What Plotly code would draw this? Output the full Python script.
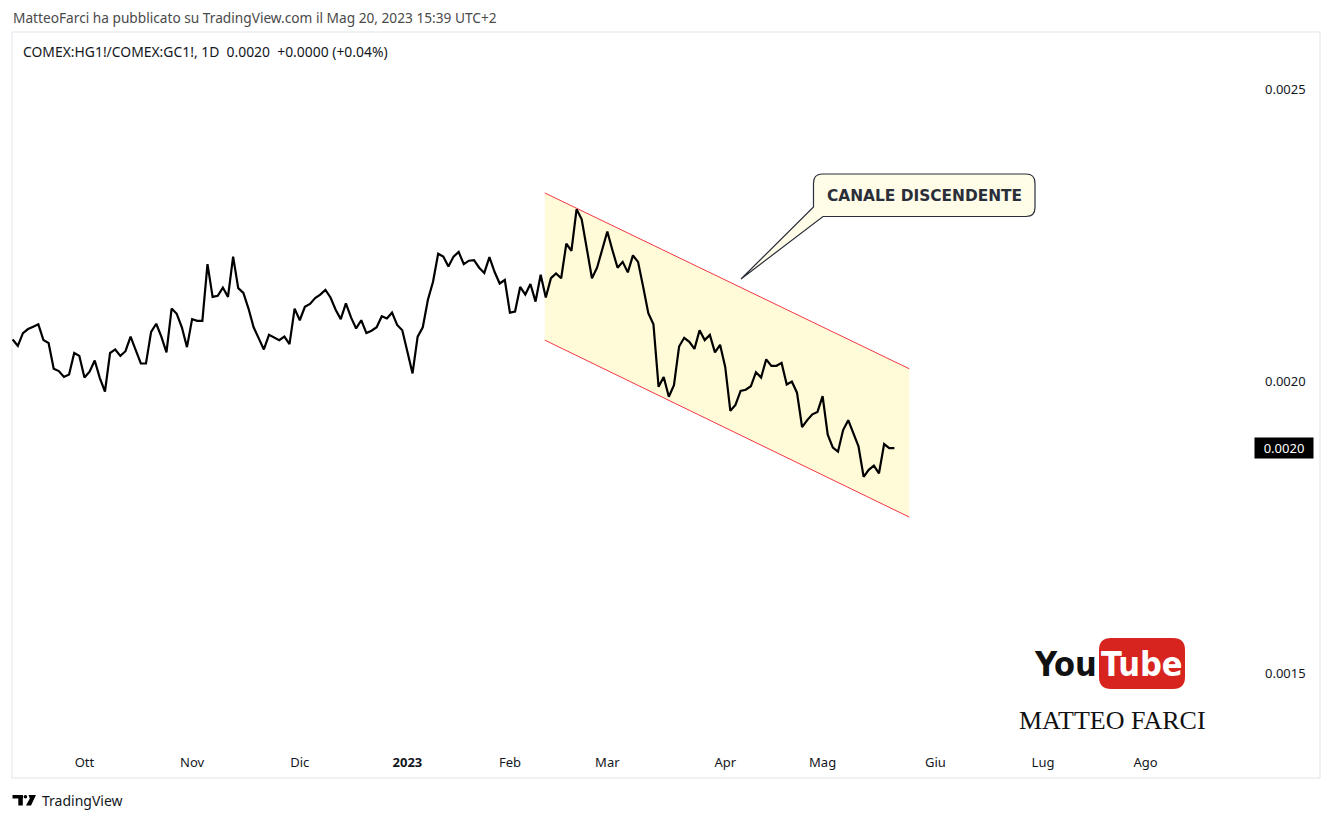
import plotly.graph_objects as go

# ---- data (COMEX:HG1!/COMEX:GC1!, daily, bar index 0 = first visible bar) ----
ratio = [
    0.002071, 0.002060, 0.002082, 0.002089, 0.002093, 0.002097, 0.002070, 0.002065, 0.002021, 0.002017,
    0.002007, 0.002011, 0.002048, 0.002043, 0.002006, 0.002016, 0.002035, 0.002005, 0.001982, 0.002048,
    0.002054, 0.002043, 0.002051, 0.002076, 0.002053, 0.002030, 0.002030, 0.002084, 0.002098, 0.002076,
    0.002049, 0.002124, 0.002115, 0.002092, 0.002058, 0.002106, 0.002103, 0.002103, 0.002200, 0.002144,
    0.002146, 0.002160, 0.002144, 0.002213, 0.002159, 0.002151, 0.002124, 0.002092, 0.002073, 0.002054,
    0.002079, 0.002075, 0.002070, 0.002076, 0.002063, 0.002124, 0.002104, 0.002127, 0.002132, 0.002142,
    0.002148, 0.002156, 0.002143, 0.002122, 0.002106, 0.002133, 0.002109, 0.002090, 0.002104, 0.002082,
    0.002086, 0.002092, 0.002111, 0.002107, 0.002117, 0.002096, 0.002087, 0.002050, 0.002013, 0.002076,
    0.002092, 0.002139, 0.002170, 0.002218, 0.002213, 0.002196, 0.002213, 0.002221, 0.002200, 0.002206,
    0.002207, 0.002194, 0.002185, 0.002212, 0.002187, 0.002167, 0.002173, 0.002117, 0.002119, 0.002161,
    0.002148, 0.002166, 0.002136, 0.002182, 0.002143, 0.002176, 0.002184, 0.002176, 0.002235, 0.002223,
    0.002294, 0.002277, 0.002227, 0.002176, 0.002194, 0.002224, 0.002256, 0.002224, 0.002194, 0.002204,
    0.002186, 0.002215, 0.002204, 0.002161, 0.002116, 0.002097, 0.001990, 0.002007, 0.001973, 0.001993,
    0.002059, 0.002074, 0.002067, 0.002055, 0.002087, 0.002070, 0.002079, 0.002049, 0.002062, 0.002024,
    0.001949, 0.001959, 0.001983, 0.001985, 0.001991, 0.002015, 0.002006, 0.002037, 0.002026, 0.002026,
    0.002031, 0.001994, 0.001999, 0.001980, 0.001921, 0.001933, 0.001943, 0.001947, 0.001974, 0.001908,
    0.001886, 0.001879, 0.001916, 0.001933, 0.001910, 0.001888, 0.001836, 0.001848, 0.001855, 0.001842,
    0.001892, 0.001885, 0.001885,
]
month_tick_bars = [14, 35, 56, 77, 97, 116, 139, 158, 180, 201, 221]
month_tick_labels = ["Ott", "Nov", "Dic", "<b>2023</b>", "Feb", "Mar", "Apr", "Mag", "Giu", "Lug", "Ago"]
price_ticks = [0.0015, 0.0020, 0.0025]
channel_bars = [103.8, 174.9]
channel_upper = [0.002322, 0.002021]
channel_lower = [0.002070, 0.001767]
last_price_text = "0.0020"
header_text = "MatteoFarci ha pubblicato su TradingView.com il Mag 20, 2023 15:39 UTC+2"
legend_text = "COMEX:HG1!/COMEX:GC1!, 1D  0.0020  +0.0000 (+0.04%)"
callout_text = "CANALE DISCENDENTE"

bars = list(range(len(ratio)))

# ---- layout geometry (pixels) ----
W, H = 1332, 821
PL, PR, PT, PB = 12, 1250, 32, 748


def px(x):
    return (x - PL) / (PR - PL)


def py(y):
    return (PB - y) / (PB - PT)


def P(x, y):
    return f"{px(x):.6f},{py(y):.6f}"


FONT = "Noto Sans, Open Sans, DejaVu Sans, sans-serif"
TXT = "#131722"

fig = go.Figure()

# channel fill
fig.add_trace(go.Scatter(
    x=[channel_bars[0], channel_bars[1], channel_bars[1], channel_bars[0], channel_bars[0]],
    y=[channel_upper[0], channel_upper[1], channel_lower[1], channel_lower[0], channel_upper[0]],
    mode="lines", fill="toself", fillcolor="rgba(255,235,59,0.2)",
    line=dict(width=0, color="rgba(0,0,0,0)"), hoverinfo="skip", showlegend=False))
# channel borders
fig.add_trace(go.Scatter(x=channel_bars, y=channel_upper, mode="lines",
                         line=dict(color="#f23645", width=1), hoverinfo="skip", showlegend=False))
fig.add_trace(go.Scatter(x=channel_bars, y=channel_lower, mode="lines",
                         line=dict(color="#f23645", width=1), hoverinfo="skip", showlegend=False))
# price line
fig.add_trace(go.Scatter(x=bars, y=ratio, mode="lines",
                         line=dict(color="#000000", width=2.2), showlegend=False))

x_left = (PL - 12.7) / 5.126
x_right = (PR - 12.7) / 5.126
y_top = 0.0025 + (89 - PT) * 0.0005 / 292
y_bot = 0.0025 - (PB - 89) * 0.0005 / 292

shapes = []
# chart frame
shapes.append(dict(type="rect", xref="paper", yref="paper",
                   x0=px(12), x1=px(1320), y0=py(32), y1=py(778),
                   line=dict(color="#e0e3eb", width=1), layer="below"))

# callout bubble with tail
L, T, R, B, r = 813.5, 174, 1035, 216.5, 9
path = (f"M {P(L + r, T)} L {P(R - r, T)} Q {P(R, T)} {P(R, T + r)} "
        f"L {P(R, B - r)} Q {P(R, B)} {P(R - r, B)} L {P(823, B)} L {P(741, 279)} "
        f"L {P(L, 207)} L {P(L, T + r)} Q {P(L, T)} {P(L + r, T)} Z")
shapes.append(dict(type="path", xref="paper", yref="paper", path=path,
                   fillcolor="#fffde8", line=dict(color="#2a2e39", width=1.2)))

# YouTube red rounded rect
YL, YT, YR, YB, yr = 1099, 638, 1185, 689, 12
ypath = (f"M {P(YL + yr, YT)} L {P(YR - yr, YT)} Q {P(YR, YT)} {P(YR, YT + yr)} "
         f"L {P(YR, YB - yr)} Q {P(YR, YB)} {P(YR - yr, YB)} L {P(YL + yr, YB)} "
         f"Q {P(YL, YB)} {P(YL, YB - yr)} L {P(YL, YT + yr)} Q {P(YL, YT)} {P(YL + yr, YT)} Z")
shapes.append(dict(type="path", xref="paper", yref="paper", path=ypath,
                   fillcolor="#d8241f", line=dict(width=0)))

# TradingView logo glyph
shapes.append(dict(type="rect", xref="paper", yref="paper", x0=px(12.5), x1=px(23), y0=py(798.5), y1=py(795),
                   fillcolor="#000", line=dict(width=0)))
shapes.append(dict(type="rect", xref="paper", yref="paper", x0=px(18.3), x1=px(22.8), y0=py(805.5), y1=py(795),
                   fillcolor="#000", line=dict(width=0)))
shapes.append(dict(type="circle", xref="paper", yref="paper", x0=px(23.6), x1=px(27.2), y0=py(798.6), y1=py(795),
                   fillcolor="#000", line=dict(width=0)))
shapes.append(dict(type="path", xref="paper", yref="paper",
                   path=f"M {P(28.5, 795)} L {P(36, 795)} L {P(31, 805.5)} L {P(26, 805.5)} L {P(29.8, 798.5)} Z",
                   fillcolor="#000", line=dict(width=0)))

YT_FONT = "Liberation Sans Narrow, DejaVu Sans Condensed, Liberation Sans, sans-serif"

annotations = [
    dict(text=header_text, xref="paper", yref="paper", x=px(11), y=py(17), xanchor="left", yanchor="middle",
         showarrow=False, font=dict(family=FONT, size=13.7, color="#4a4a4a")),
    dict(text=legend_text, xref="paper", yref="paper", x=px(21), y=py(51), xanchor="left", yanchor="middle",
         showarrow=False, font=dict(family=FONT, size=13.9, color=TXT)),
    dict(text=f"<b>{callout_text}</b>", xref="paper", yref="paper", x=px(924.5), y=py(195.5),
         xanchor="center", yanchor="middle", showarrow=False,
         font=dict(family="DejaVu Sans, Verdana, sans-serif", size=15.4, color="#2a2e39")),
    dict(text=last_price_text, xref="paper", yref="y", x=px(1284), y=ratio[-1], xanchor="center",
         yanchor="middle", showarrow=False, bgcolor="#000000", borderpad=2, width=54, height=16,
         font=dict(family=FONT, size=13, color="#ffffff")),
    dict(text="<b>You</b>", xref="paper", yref="paper", x=px(1099), y=py(664), xanchor="right", yanchor="middle",
         showarrow=False, font=dict(family=YT_FONT, size=34, color="#111111")),
    dict(text="<b>Tube</b>", xref="paper", yref="paper", x=px(1142), y=py(664), xanchor="center", yanchor="middle",
         showarrow=False, font=dict(family=YT_FONT, size=34, color="#ffffff")),
    dict(text="MATTEO FARCI", xref="paper", yref="paper", x=px(1112), y=py(720), xanchor="center", yanchor="middle",
         showarrow=False, font=dict(family="Liberation Serif, DejaVu Serif, serif", size=26, color="#111111")),
    dict(text="TradingView", xref="paper", yref="paper", x=px(40), y=py(800), xanchor="left", yanchor="middle",
         showarrow=False, font=dict(family=FONT, size=14, color=TXT)),
]

fig.update_layout(
    width=W, height=H,
    margin=dict(l=PL, r=W - PR, t=PT, b=H - PB),
    paper_bgcolor="#ffffff", plot_bgcolor="#ffffff",
    showlegend=False,
    shapes=shapes, annotations=annotations,
    xaxis=dict(range=[x_left, x_right], tickmode="array", tickvals=month_tick_bars, ticktext=month_tick_labels,
               showgrid=False, zeroline=False, showline=False, ticks="",
               tickfont=dict(family=FONT, size=13, color=TXT), ticklabelstandoff=5, fixedrange=True),
    yaxis=dict(range=[y_bot, y_top], side="right", tickmode="array", tickvals=price_ticks,
               tickformat=".4f", showgrid=False, zeroline=False, showline=False, ticks="",
               tickfont=dict(family=FONT, size=13, color=TXT), ticklabelstandoff=14, fixedrange=True),
    hovermode=False,
)

fig.write_html("out.html", config={"displayModeBar": False})
